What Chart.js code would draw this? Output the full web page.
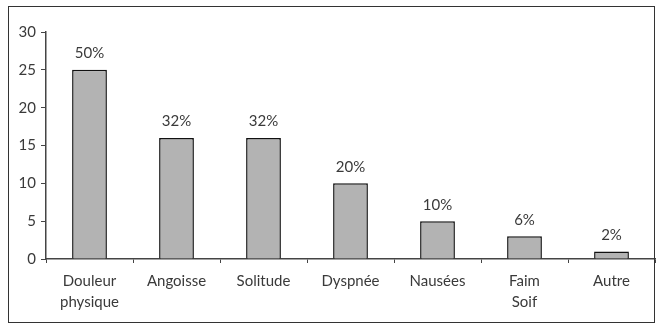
<!DOCTYPE html>
<html>
<head>
<meta charset="utf-8">
<script src="https://cdn.jsdelivr.net/npm/chart.js@4/dist/chart.umd.min.js"></script>
<style>
  html, body { margin: 0; padding: 0; background: #fff; }
  #wrap { position: relative; width: 663px; height: 327px; }
  #frame { position: absolute; left: 8px; top: 6px; width: 647px; height: 317px; border: 1.5px solid #333; box-sizing: border-box; pointer-events: none; }
  canvas { position: absolute; left: 0; top: 0; }
</style>
</head>
<body>
<div id="wrap">
  <canvas id="chart" width="663" height="327"></canvas>
  <div id="frame"></div>
</div>
<script>
// données
const categories = [["Douleur", "physique"], "Angoisse", "Solitude", "Dyspnée", "Nausées", ["Faim", "Soif"], "Autre"];
const counts = [25, 16, 16, 10, 5, 3, 1];
const percentLabels = ["50%", "32%", "32%", "20%", "10%", "6%", "2%"];
const yTicks = [0, 5, 10, 15, 20, 25, 30];

const font = { family: "Lato, 'Noto Sans', sans-serif", size: 15 };

// étiquettes au-dessus des barres
const valueLabels = {
  id: "valueLabels",
  afterDatasetsDraw(chart) {
    const ctx = chart.ctx;
    const meta = chart.getDatasetMeta(0);
    ctx.save();
    ctx.font = font.size + "px " + font.family;
    ctx.fillStyle = "#3a3a3a";
    ctx.textAlign = "center";
    ctx.textBaseline = "bottom";
    meta.data.forEach((bar, i) => {
      ctx.fillText(percentLabels[i], bar.x, bar.y - 9);
    });
    ctx.restore();
  }
};

const ctx = document.getElementById("chart").getContext("2d");
new Chart(ctx, {
  type: "bar",
  data: {
    labels: categories,
    datasets: [{
      data: counts,
      backgroundColor: "#b3b3b3",
      borderColor: "#111",
      borderWidth: 1.5,
      barPercentage: 0.4,
      categoryPercentage: 1
    }]
  },
  options: {
    responsive: false,
    animation: false,
    layout: { padding: { left: 0, right: 8, top: 32, bottom: 0 } },
    plugins: { legend: { display: false }, tooltip: { enabled: false } },
    scales: {
      x: {
        grid: { display: true, offset: true, drawOnChartArea: false, tickLength: 4, color: "#444", lineWidth: 1 },
        border: { color: "#444", width: 1.5 },
        ticks: { font: { family: font.family, size: 15, lineHeight: 1.45 }, color: "#3a3a3a", padding: 7, maxRotation: 0, autoSkip: false },
        afterFit(scale) { scale.height = 68; }
      },
      y: {
        min: 0,
        max: 30,
        afterBuildTicks(scale) { scale.ticks = yTicks.map(v => ({ value: v })); },
        grid: { display: true, drawOnChartArea: false, tickLength: 5, color: "#444", lineWidth: 1 },
        border: { color: "#444", width: 1.5 },
        ticks: { font: font, color: "#3a3a3a", padding: 5 },
        afterFit(scale) { scale.width = 46; }
      }
    }
  },
  plugins: [valueLabels]
});
</script>
</body>
</html>
